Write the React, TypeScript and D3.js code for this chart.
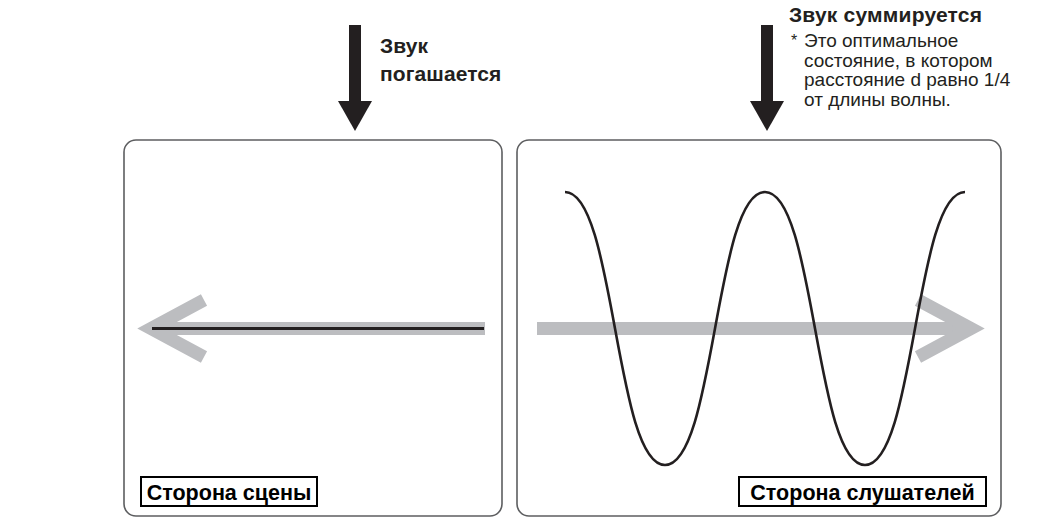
import React, { useEffect, useRef } from 'react';
import * as d3 from 'd3';

// wave extremes, in periods / normalised amplitude
const wavePhase = [0, 0.5, 1, 1.5, 2];
const waveValue = [1, -1, 1, -1, 1];

const leftTitle = ['Звук', 'погашается'];
const rightTitle = 'Звук суммируется';
const noteLines = ['Это оптимальное', 'состояние, в котором', 'расстояние d равно 1/4', 'от длины волны.'];
const panelLabels = ['Сторона сцены', 'Сторона слушателей'];

const W = 1039;
const H = 519;
const DARK = '#231f20';
const GRAY = '#bcbdc0';
const FONT = 'Liberation Sans, Arial, Helvetica, sans-serif';

const App = () => {
  const ref = useRef<SVGSVGElement>(null);

  useEffect(() => {
    const svg = d3.select(ref.current);
    svg.selectAll('*').remove();

    // panels
    const panels = [
      { x: 124, y: 140, w: 378, h: 376 },
      { x: 517, y: 140, w: 484, h: 376 },
    ];
    svg.selectAll('rect.panel')
      .data(panels)
      .enter()
      .append('rect')
      .attr('class', 'panel')
      .attr('x', d => d.x)
      .attr('y', d => d.y)
      .attr('width', d => d.w)
      .attr('height', d => d.h)
      .attr('rx', 12)
      .style('fill', 'none')
      .style('stroke', '#5d5e60')
      .style('stroke-width', 1.6);

    // black down arrows
    const downArrow = (cx: number) => {
      svg.append('rect')
        .attr('x', cx - 6).attr('y', 25)
        .attr('width', 12).attr('height', 78)
        .style('fill', DARK);
      svg.append('path')
        .attr('d', `M${cx - 17},101 L${cx + 17},101 L${cx},131 Z`)
        .style('fill', DARK);
    };
    downArrow(355);
    downArrow(767);

    // titles
    svg.selectAll('text.lt')
      .data(leftTitle)
      .enter()
      .append('text')
      .attr('class', 'lt')
      .attr('x', 380)
      .attr('y', (_, i) => 53 + i * 28)
      .style('font-family', FONT)
      .style('font-weight', 'bold')
      .style('font-size', '21px')
      .style('letter-spacing', '0.1px')
      .style('fill', DARK)
      .text(d => d);

    svg.append('text')
      .attr('x', 789)
      .attr('y', 22)
      .style('font-family', FONT)
      .style('font-weight', 'bold')
      .style('font-size', '21px')
      .style('letter-spacing', '0.2px')
      .style('fill', DARK)
      .text(rightTitle);

    svg.append('text')
      .attr('x', 791)
      .attr('y', 46)
      .style('font-family', FONT)
      .style('font-size', '16px')
      .style('fill', DARK)
      .text('*');

    svg.selectAll('text.note')
      .data(noteLines)
      .enter()
      .append('text')
      .attr('class', 'note')
      .attr('x', 804)
      .attr('y', (_, i) => 47 + i * 19.6)
      .style('font-family', FONT)
      .style('font-size', '19px')
      .style('fill', DARK)
      .text(d => d);

    const midY = 328.5;

    // left panel: gray arrow pointing left + flat black line
    svg.append('line')
      .attr('x1', 150).attr('x2', 485)
      .attr('y1', midY).attr('y2', midY)
      .style('stroke', GRAY).style('stroke-width', 13);
    svg.append('polyline')
      .attr('points', `204,300 151,${midY} 204,357`)
      .style('fill', 'none')
      .style('stroke', GRAY)
      .style('stroke-width', 13)
      .style('stroke-linejoin', 'miter');
    svg.append('line')
      .attr('x1', 152).attr('x2', 484)
      .attr('y1', midY).attr('y2', midY)
      .style('stroke', DARK).style('stroke-width', 3);

    // right panel: gray arrow pointing right
    svg.append('line')
      .attr('x1', 537).attr('x2', 968)
      .attr('y1', midY).attr('y2', midY)
      .style('stroke', GRAY).style('stroke-width', 13);
    svg.append('polyline')
      .attr('points', `918,300 971,${midY} 918,357`)
      .style('fill', 'none')
      .style('stroke', GRAY)
      .style('stroke-width', 13)
      .style('stroke-linejoin', 'miter');

    // wave
    const x = d3.scaleLinear().domain([0, 2]).range([565, 965]);
    const y = d3.scaleLinear().domain([-1, 1]).range([465, 192]);
    const wave = d3.line<number>()
      .x((_, i) => x(wavePhase[i]))
      .y(d => y(d))
      .curve(d3.curveBumpX);
    svg.append('path')
      .datum(waveValue)
      .attr('d', wave)
      .style('fill', 'none')
      .style('stroke', DARK)
      .style('stroke-width', 2.6);

    // boxed labels
    const boxes = [
      { x: 141, w: 176 },
      { x: 739, w: 247 },
    ];
    panelLabels.forEach((label, i) => {
      const b = boxes[i];
      svg.append('rect')
        .attr('x', b.x)
        .attr('y', 477)
        .attr('width', b.w)
        .attr('height', 29)
        .style('fill', 'white')
        .style('stroke', 'black')
        .style('stroke-width', 2);
      svg.append('text')
        .attr('x', b.x + b.w / 2)
        .attr('y', 500)
        .attr('text-anchor', 'middle')
        .style('font-family', FONT)
        .style('font-weight', 'bold')
        .style('font-size', '21.5px')
        .style('fill', 'black')
        .text(label);
    });
  }, []);

  return (
    <svg
      ref={ref}
      width={W}
      height={H}
      style={{ position: 'fixed', left: 0, top: 0, background: 'white' }}
    />
  );
};

export default App;
